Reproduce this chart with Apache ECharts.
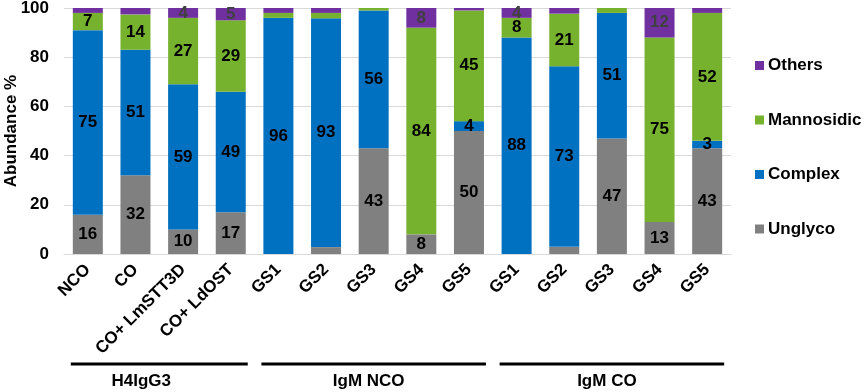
<!DOCTYPE html>
<html>
<head>
<meta charset="utf-8">
<script src="https://cdn.jsdelivr.net/npm/echarts@6/dist/echarts.min.js"></script>
<style>html,body{margin:0;padding:0;background:#fff}#c{width:865px;height:392px}</style>
</head>
<body>
<div id="c"></div>
<script>
const categories = ['NCO','CO','CO+ LmSTT3D','CO+ LdOST','GS1','GS2','GS3','GS4','GS5','GS1','GS2','GS3','GS4','GS5'];
const unglyco    = [16, 32,   10, 17, 0, 2.8, 43, 8, 50, 0, 2.9, 47, 13, 43];
const complex    = [75, 51,   59, 49, 96, 93, 56, 0, 4, 88, 73.4, 51, 0, 3];
const mannosidic = [7,  14.4, 27, 29, 2, 2.2, 1, 84, 45, 8, 21.4, 2, 75, 52];
const others     = [2,  2.6,  4,  5,  2, 2,   0, 8, 1, 4, 2.3, 0, 12, 2];
const yTicks = [0, 20, 40, 60, 80, 100];
const groups = ['H4IgG3', 'IgM NCO', 'IgM CO'];
const groupFirst = [0, 4, 9];
const groupLast = [3, 8, 13];

const FONT = '"Liberation Sans", Arial, sans-serif';
const chart = echarts.init(document.getElementById('c'));
const lbl = (color) => ({
  show: true, position: 'inside', color: color, fontFamily: FONT, fontWeight: 'bold', fontSize: 17,
  formatter: p => (p.value >= 3 ? String(Math.round(p.value)) : '')
});
const mk = (name, data, color, lc) => ({
  name, type: 'bar', stack: 'all', data, barWidth: 30,
  itemStyle: { color }, label: lbl(lc), emphasis: { disabled: true }
});
chart.setOption({
  animation: false,
  grid: { left: 64, right: 134, top: 8, bottom: 138, containLabel: false, outerBoundsMode: 'none' },
  legend: {
    data: ['Others', 'Mannosidic', 'Complex', 'Unglyco'],
    orient: 'vertical', left: 755, top: 57, padding: 0,
    itemWidth: 9, itemHeight: 9, itemGap: 37.5,
    icon: 'rect',
    textStyle: { fontFamily: FONT, fontWeight: 'bold', fontSize: 17, color: '#000', padding: [0,0,0,-1], lineHeight: 17 }
  },
  xAxis: {
    type: 'category', data: categories,
    axisLine: { lineStyle: { color: '#d9d9d9', width: 1 } },
    axisTick: { show: false },
    axisLabel: { interval: 0, rotate: 45, margin: 13, fontFamily: FONT, fontWeight: 'bold', fontSize: 17, color: '#000' }
  },
  yAxis: {
    type: 'value', min: yTicks[0], max: yTicks[yTicks.length - 1], interval: yTicks[1] - yTicks[0],
    name: 'Abundance %', nameLocation: 'middle', nameGap: 44, nameMoveOverlap: false,
    nameTextStyle: { fontFamily: FONT, fontWeight: 'bold', fontSize: 17, color: '#000' },
    axisLine: { show: false }, axisTick: { show: false },
    axisLabel: { margin: 15, fontFamily: FONT, fontWeight: 'bold', fontSize: 17, color: '#000' },
    splitLine: { lineStyle: { color: '#d9d9d9', width: 1 } }
  },
  series: [
    mk('Unglyco', unglyco, '#808080', '#000'),
    mk('Complex', complex, '#0070C0', '#000'),
    mk('Mannosidic', mannosidic, '#77B22F', '#000'),
    mk('Others', others, '#7030A0', '#404040')
  ]
});

const labelShift = [-18, -5, -5];
const g = [];
groups.forEach((name, i) => {
  const x1 = chart.convertToPixel({ xAxisIndex: 0 }, groupFirst[i]) - 17;
  const x2 = chart.convertToPixel({ xAxisIndex: 0 }, groupLast[i]) + 17;
  g.push({ type: 'line', shape: { x1, y1: 364, x2, y2: 364 }, style: { stroke: '#000', lineWidth: 3 } });
  g.push({ type: 'text', x: (x1 + x2) / 2 + labelShift[i], y: 381,
    style: { text: name, fill: '#000', font: 'bold 17px ' + FONT, textAlign: 'center', textVerticalAlign: 'middle' } });
});
chart.setOption({ graphic: g });
</script>
</body>
</html>
